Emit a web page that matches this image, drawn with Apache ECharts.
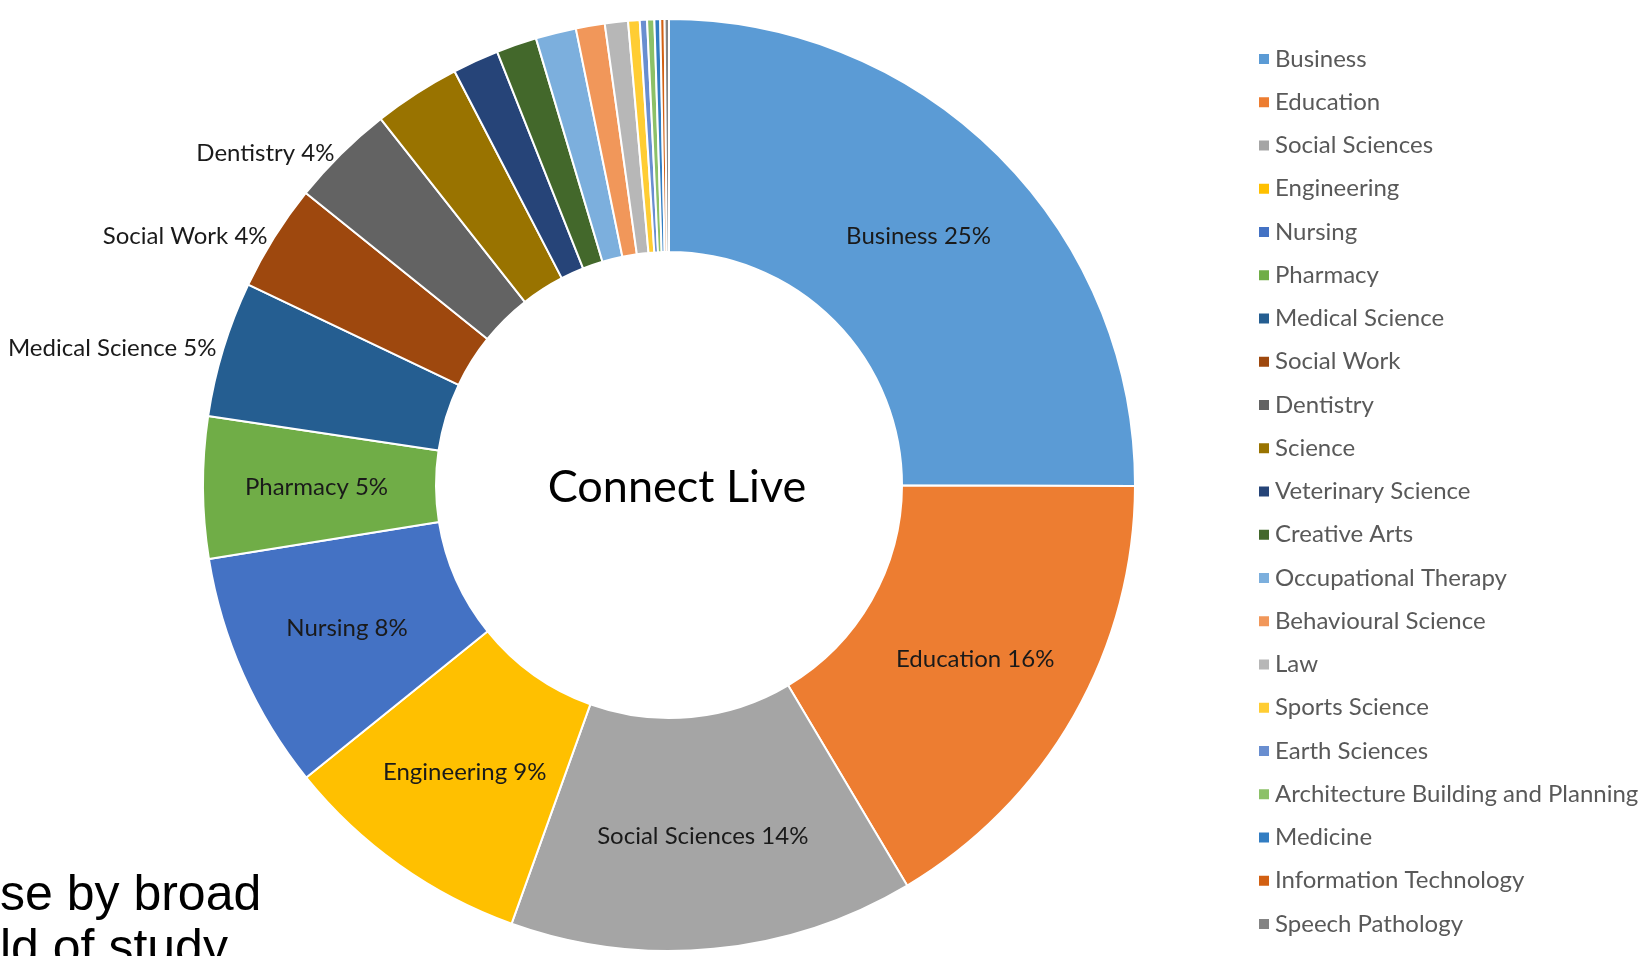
<!DOCTYPE html>
<html>
<head>
<meta charset="utf-8">
<script src="https://cdn.jsdelivr.net/npm/echarts@6/dist/echarts.min.js"></script>
<style>
  html, body { margin: 0; padding: 0; background: #fff; }
  #chart { width: 1650px; height: 956px; }
</style>
</head>
<body>
<div id="chart"></div>
<script>
// fields of study, clockwise from 12 o'clock
const fields = [
  'Business', 'Education', 'Social Sciences', 'Engineering', 'Nursing',
  'Pharmacy', 'Medical Science', 'Social Work', 'Dentistry', 'Science',
  'Veterinary Science', 'Creative Arts', 'Occupational Therapy', 'Behavioural Science', 'Law',
  'Sports Science', 'Earth Sciences', 'Architecture Building and Planning', 'Medicine',
  'Information Technology', 'Speech Pathology'
]
// share of usage (%)
const shares = [
  25.0, 16.4, 14.0, 8.7, 8.25,
  4.9, 4.7, 3.7, 3.6, 3.0,
  1.6, 1.4, 1.4, 1.0, 0.8,
  0.4, 0.25, 0.25, 0.2,
  0.15, 0.15
]
const colors = [
  '#5b9bd5', '#ed7d31', '#a5a5a5', '#ffc000', '#4472c4',
  '#70ad47', '#255e91', '#9e480e', '#636363', '#997300',
  '#264478', '#43682b', '#7cafdd', '#f1975a', '#b7b7b7',
  '#ffcd33', '#698ed0', '#8cc168', '#327dc2',
  '#d26012', '#848484'
]
// which slices carry a label, and where
const insideLabels = ['Business', 'Education', 'Social Sciences', 'Engineering', 'Nursing', 'Pharmacy']
const outsideLabels = ['Medical Science', 'Social Work', 'Dentistry']

const FONT = 'Lato'

const chart = echarts.init(document.getElementById('chart'))

const data = fields.map((name, i) => {
  const item = { name: name, value: shares[i], itemStyle: { color: colors[i] } }
  if (insideLabels.includes(name)) {
    item.label = { show: true, position: 'inside' }
  } else if (outsideLabels.includes(name)) {
    item.label = { show: true, position: 'outside' }
  } else {
    item.label = { show: false }
  }
  return item
})

const option = {
  animation: false,
  legend: {
    orient: 'vertical',
    left: 1252,
    top: 42,
    itemWidth: 12,
    itemHeight: 12,
    itemGap: 19.25,
    icon: 'rect',
    textStyle: {
      fontFamily: FONT,
      fontSize: 24,
      color: '#595959'
    },
    data: fields
  },
  graphic: [
    {
      type: 'text',
      left: 0,
      top: 869,
      style: {
        text: 'se by broad\nld of study',
        fontFamily: 'Liberation Sans',
        fontSize: 50,
        lineHeight: 54,
        fill: '#000'
      }
    }
  ],
  title: {
    text: 'Connect Live',
    left: 672,
    top: 482,
    textAlign: 'center',
    textVerticalAlign: 'middle',
    textStyle: {
      fontFamily: FONT,
      fontSize: 45,
      fontWeight: 'normal',
      color: '#000'
    }
  },
  series: [
    {
      type: 'pie',
      center: [669, 485],
      radius: [233, 466],
      startAngle: 90,
      clockwise: true,
      avoidLabelOverlap: false,
      itemStyle: { borderColor: '#fff', borderWidth: 2 },
      label: {
        fontFamily: FONT,
        fontSize: 24,
        color: '#1a1a1a',
        formatter: p => p.name + ' ' + Math.round(p.percent) + '%'
      },
      labelLine: { show: false, length: 1, length2: 1 },
      emphasis: { disabled: true },
      data: data
    }
  ]
}

chart.setOption(option)
</script>
</body>
</html>
